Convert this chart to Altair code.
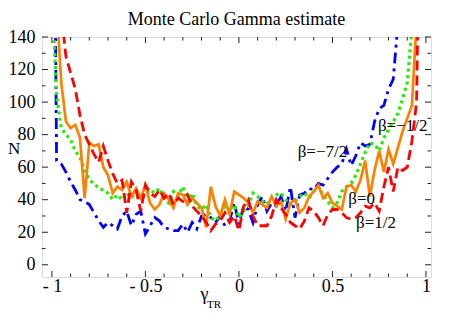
import altair as alt
import pandas as pd

# ---- data ----
gamma = [-1.0 + 0.025 * i for i in range(81)]

n_beta_m12 = [400, 64, 62, 57, 51, 46, 40, 39, 37, 32, 27, 23, 26, 24, 22, 30, 33, 24, 31, 33,
              19, 24, 29, 27, 23, 22, 21, 21, 25, 20, 26, 22, 30, 31, 29, 26, 30, 24, 27, 38,
              25, 36, 34, 26, 37, 42, 33, 38, 36, 42, 33, 48, 29, 43, 44, 47, 46, 50, 49, 53,
              57, 60, 62, 71, 61, 67, 75, 73, 74, 88, 96, 98, 108, 114, 148, 400, 400, 400, 400, 400, 400]
n_beta_m72 = [170, 104, 84, 80, 77, 70, 66, 58, 52, 50, 47, 46, 44, 40, 43, 40, 44, 41, 45, 40,
              43, 46, 44, 47, 41, 38, 45, 42, 48, 39, 44, 36, 34, 37, 29, 27, 31, 36, 33, 37,
              29, 33, 37, 44, 42, 39, 37, 41, 43, 44, 40, 37, 39, 42, 44, 41, 45, 48, 43, 39,
              35, 38, 45, 48, 50, 55, 62, 69, 75, 74, 70, 78, 83, 88, 93, 102, 112, 145, 400, 400, 400]
n_beta_0 = [400, 160, 112, 88, 84, 86, 78, 41, 75, 73, 74, 60, 55, 44, 48, 46, 51, 42, 47, 41,
            49, 38, 34, 37, 44, 40, 35, 44, 43, 37, 41, 38, 35, 23, 48, 36, 30, 40, 31, 45,
            43, 41, 38, 32, 39, 37, 35, 42, 36, 39, 28, 38, 40, 32, 35, 42, 45, 49, 41, 44,
            38, 36, 34, 48, 49, 45, 52, 64, 42, 58, 70, 57, 71, 62, 72, 82, 90, 98, 150, 400, 400]
n_beta_12 = [400, 300, 155, 128, 118, 108, 92, 80, 74, 68, 63, 73, 64, 56, 50, 52, 32, 51, 46, 33,
             49, 44, 42, 46, 41, 44, 37, 41, 39, 43, 36, 33, 30, 26, 21, 25, 27, 32, 26, 30,
             21, 36, 40, 30, 24, 24, 24, 30, 40, 35, 31, 26, 24, 22, 27, 35, 33, 29, 24, 31,
             34, 34, 32, 29, 28, 29, 32, 36, 35, 38, 33, 48, 60, 45, 60, 58, 60, 76, 100, 300, 400]

label_text = ["β=−1/2", "β=−7/2", "β=0", "β=1/2"]
label_x = [0.743, 0.314, 0.585, 0.626]
label_y = [85.3, 69.1, 40.3, 25.6]

x_ticks_major = [-1.0, -0.5, 0.0, 0.5, 1.0]
x_ticks_minor = [-0.9, -0.8, -0.7, -0.6, -0.4, -0.3, -0.2, -0.1, 0.1, 0.2, 0.3, 0.4, 0.6, 0.7, 0.8, 0.9]
y_ticks_major = [0, 20, 40, 60, 80, 100, 120, 140]
y_ticks_minor = [10, 30, 50, 70, 90, 110, 130]

W, H = 389, 240
FONT = "Liberation Serif"

xs = alt.Scale(domain=[-1.053, 1.027], nice=False, zero=False)
ys = alt.Scale(domain=[-7.5, 140], nice=False, zero=False)

x_axis = alt.Axis(
    values=x_ticks_major, ticks=False, domain=False, grid=False, title=None,
    labelFont=FONT, labelFontSize=18, labelColor="black", labelPadding=0,
    labelOverlap=False, labelFlush=False,
    labelExpr="datum.value == 0 ? '0' : (datum.value < 0 ? '- ' + (-datum.value) : '' + datum.value)")
y_axis = alt.Axis(
    values=y_ticks_major, ticks=False, domain=False, grid=False, title=None,
    labelFont=FONT, labelFontSize=18, labelColor="black", labelPadding=7,
    labelOverlap=False, labelFlush=False)

def X(f="g"):
    return alt.X(f + ":Q", scale=xs, axis=x_axis)

def Y(f="n"):
    return alt.Y(f + ":Q", scale=ys, axis=y_axis)

series = [
    (n_beta_m12, "#0000ff", [11, 5, 3, 5], 2.8),
    (n_beta_m72, "#22ee00", [3, 3.5], 3.2),
    (n_beta_0, "#ff8000", None, 2.7),
    (n_beta_12, "#ff0000", [10, 5], 2.8),
]

layers = []
for vals, color, dash, sw in series:
    df = pd.DataFrame({"g": gamma, "n": vals})
    kw = dict(color=color, strokeWidth=sw, clip=True)
    if dash is not None:
        kw["strokeDash"] = dash
    layers.append(alt.Chart(df).mark_line(**kw).encode(x=X(), y=Y()))

# inward frame ticks
def xtick_layers(vals, length):
    d = pd.DataFrame({"g": vals})
    bot = alt.Chart(d).mark_rule(color="#222", strokeWidth=1).encode(
        x=X(), y=alt.value(H), y2=alt.value(H - length))
    top = alt.Chart(d).mark_rule(color="#222", strokeWidth=1).encode(
        x=X(), y=alt.value(0), y2=alt.value(length))
    return [bot, top]

def ytick_layers(vals, length):
    d = pd.DataFrame({"n": vals})
    left = alt.Chart(d).mark_rule(color="#222", strokeWidth=1).encode(
        y=Y(), x=alt.value(0), x2=alt.value(length))
    right = alt.Chart(d).mark_rule(color="#222", strokeWidth=1).encode(
        y=Y(), x=alt.value(W), x2=alt.value(W - length))
    return [left, right]

tick_layers = (xtick_layers(x_ticks_major, 6) + xtick_layers(x_ticks_minor, 3.5)
               + ytick_layers(y_ticks_major, 6) + ytick_layers(y_ticks_minor, 3.5))

lab_df = pd.DataFrame({"g": label_x, "n": label_y, "t": label_text})
labels = alt.Chart(lab_df).mark_text(
    align="left", baseline="middle", font=FONT, fontSize=17, color="black"
).encode(x=X(), y=Y(), text="t:N")

one = pd.DataFrame({"a": [0]})
title = alt.Chart(one).mark_text(
    align="center", baseline="alphabetic", font=FONT, fontSize=18, color="black"
).encode(x=alt.value(W / 2), y=alt.value(-12), text=alt.value("Monte Carlo Gamma estimate"))

ytitle = alt.Chart(one).mark_text(
    align="left", baseline="alphabetic", font=FONT, fontSize=17, color="black"
).encode(x=alt.value(-34), y=alt.value(116.5), text=alt.value("N"))

xtitle_g = alt.Chart(one).mark_text(
    align="right", baseline="alphabetic", font=FONT, fontSize=18, color="black"
).encode(x=alt.value(166.5), y=alt.value(263), text=alt.value("γ"))

xtitle_s = alt.Chart(one).mark_text(
    align="left", baseline="alphabetic", font=FONT, fontSize=11, color="black"
).encode(x=alt.value(165), y=alt.value(271), text=alt.value("TR"))

chart = alt.layer(*layers, *tick_layers, labels, title, ytitle, xtitle_g, xtitle_s).properties(
    width=W, height=H,
    autosize=alt.AutoSizeParams(type="none"),
    padding={"left": 34, "top": 29, "right": 20, "bottom": 40},
).configure_view(stroke="#222", strokeWidth=1).configure(background="white")

chart.save("out.html", embed_options={"renderer": "svg", "actions": False})
